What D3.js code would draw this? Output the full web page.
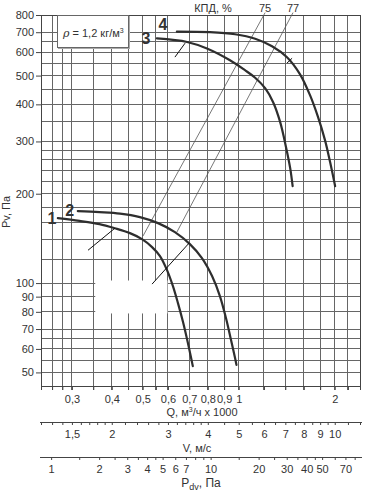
<!DOCTYPE html>
<html><head><meta charset="utf-8">
<script src="https://cdn.jsdelivr.net/npm/d3@7/dist/d3.min.js"></script>
<style>
body{margin:0;background:#fff}
svg{display:block}
text{font-family:"Liberation Sans",Arial,sans-serif;fill:#333}
</style>
</head><body>
<svg id="c" width="370" height="492"></svg>
<script>
// ---------- data ----------
const curve1Q = [0.271, 0.317, 0.366, 0.409, 0.456, 0.4975, 0.535, 0.5665, 0.596, 0.622, 0.645, 0.669, 0.693, 0.718];
const curve1P = [165.5, 162, 158, 153, 147.3, 140.6, 132.2, 123.3, 110.6, 97.7, 85.6, 73.9, 62.8, 52.5];
const curve2Q = [0.313, 0.366, 0.4246, 0.490, 0.5585, 0.631, 0.703, 0.767, 0.825, 0.873, 0.912, 0.946, 0.974, 0.984];
const curve2P = [174.8, 173.4, 171.4, 166.8, 159.2, 148.5, 135.3, 121.4, 105.6, 90.4, 76.2, 64.3, 55.9, 53];
const curve3Q = [0.554, 0.689, 0.795, 0.939, 1.046, 1.126, 1.21, 1.282, 1.349, 1.407, 1.45, 1.476];
const curve3P = [667, 649, 617, 563, 521.4, 491.8, 453.5, 406.8, 348.4, 287, 243.9, 212];
const curve4Q = [0.64, 0.813, 0.974, 1.126, 1.272, 1.417, 1.557, 1.673, 1.769, 1.864, 1.934, 2.006];
const curve4P = [702.9, 700, 689, 665.8, 628, 576.7, 505, 429.6, 365, 303, 255.6, 212];
const curveNames = ["1", "2", "3", "4"];

const eff75Q = [0.501, 1.21], eff75P = [144, 815];
const eff77Q = [0.640, 1.48], eff77P = [148.5, 815];
const effNames = ["75", "77"];

const markAQ = [0.337, 0.409], markAP = [129, 153];
const markBQ = [0.535, 0.699], markBP = [99.2, 136.4];
const markCQ = [0.631, 0.679], markCP = [577, 643];
const markDQ = [1.417, 1.47], markDP = [551, 572];

const yTickLabels = [800, 700, 600, 500, 400, 300, 200, 100, 90, 80, 70, 60, 50];
const yGrid = [50,55,60,65,70,80,90,100,120,140,160,180,200,220,240,260,280,300,350,400,450,500,550,600,650,700,800];
const xGrid = [0.24,0.26,0.28,0.3,0.35,0.4,0.45,0.5,0.55,0.6,0.7,0.8,0.9,1,1.2,1.4,1.6,1.8,2,2.2,2.4];
const qLabels = [0.3,0.4,0.5,0.6,0.7,0.8,0.9,1,2];
const vLabels = [1.5,2,3,4,5,6,7,8,9,10];
const vMinor = [1.2,1.3,1.4,1.5,1.6,1.7,1.8,1.9,2,2.2,2.4,2.6,2.8,3,3.2,3.4,3.6,3.8,4,4.5,5,5.5,6,6.5,7,7.5,8,8.5,9,9.5,10,11,12];
const pdvLabels = [1,2,3,4,5,6,7,10,20,30,40,50,70];
const pdvMinor = [1,1.5,2,2.5,3,3.5,4,4.5,5,6,7,8,9,10,15,20,25,30,35,40,45,50,60,70,80];

// ---------- scales ----------
const svg = d3.select("#c");
const L = 41, R = 360, T = 15, B = 386;
const x = d3.scaleLog().domain([0.24, 2.4]).range([L, R]);
const y = d3.scaleLog().domain([45, 800]).range([B, T]);
const xV = d3.scaleLog().domain([0.24*5, 2.4*5]).range([L, R]);          // V = 5·Q
const xPdv = d3.scaleLog().domain([15*0.24*0.24, 15*2.4*2.4]).range([L, R]); // Pdv = 0.6·V²
const loc = d3.formatLocale({decimal: ",", thousands: " ", grouping: [3], currency: ["", ""]});
const fmt = loc.format("~g");

// ---------- grid ----------
const g = svg.append("g");
g.selectAll(".vg").data(xGrid).join("line")
  .attr("x1", d => x(d)).attr("x2", d => x(d)).attr("y1", T).attr("y2", B + 4)
  .attr("stroke", "#666").attr("stroke-width", 1).attr("shape-rendering", "crispEdges");
g.selectAll(".hg").data(yGrid).join("line")
  .attr("x1", L).attr("x2", R).attr("y1", d => y(d)).attr("y2", d => y(d))
  .attr("stroke", "#666").attr("stroke-width", 1).attr("shape-rendering", "crispEdges");
// frame
g.append("rect").attr("x", L).attr("y", T).attr("width", R - L).attr("height", B - T)
  .attr("fill", "none").attr("stroke", "#444").attr("stroke-width", 1).attr("shape-rendering", "crispEdges");
// blank (unprinted) patch of the grid
g.append("rect").attr("x", x(0.355)).attr("y", y(102)).attr("width", x(0.6) - x(0.355) - 0.5)
  .attr("height", y(79) - y(102)).attr("fill", "#fff");

// ---------- y axis ----------
const ya = svg.append("g").attr("transform", `translate(${L},0)`)
  .call(d3.axisLeft(y).tickValues(yTickLabels).tickSize(5).tickPadding(2).tickFormat(d => d));
ya.select(".domain").remove();
ya.selectAll("line").attr("stroke", "#444");
ya.selectAll("text").attr("font-size", 11).attr("fill", "#333").style("font-family", "Liberation Sans, Arial, sans-serif");
svg.append("text").attr("transform", `translate(10,212) rotate(-90)`).attr("text-anchor", "middle")
  .attr("font-size", 11).text("Pv, Па");

// ---------- legend box ----------
svg.append("rect").attr("x", 58).attr("y", T + 1).attr("width", 72).attr("height", 33).attr("fill", "#aaa");
svg.append("rect").attr("x", 57).attr("y", T).attr("width", 71).attr("height", 32)
  .attr("fill", "#fff").attr("stroke", "#666").attr("stroke-width", 1).attr("shape-rendering", "crispEdges");
const lt = svg.append("text").attr("x", 63).attr("y", 37).attr("font-size", 11);
lt.append("tspan").attr("font-style", "italic").attr("font-family", "DejaVu Serif, serif").text("ρ");
lt.append("tspan").text(" = 1,2 кг/м");
lt.append("tspan").attr("font-size", 7).attr("dy", -4).text("3");

// ---------- efficiency lines ----------
const line = d3.line().x(d => x(d[0])).y(d => y(d[1]));
const effs = [[eff75Q, eff75P], [eff77Q, eff77P]];
svg.selectAll(".eff").data(effs).join("path")
  .attr("d", e => line(e[0].map((q, i) => [q, e[1][i]])))
  .attr("fill", "none").attr("stroke", "#555").attr("stroke-width", 0.8);
effs.forEach((e, i) => {
  svg.append("text").attr("x", x(e[0][1])).attr("y", 12).attr("text-anchor", "middle")
    .attr("font-size", 11).text(effNames[i]);
});
svg.append("text").attr("x", 213).attr("y", 12).attr("text-anchor", "middle").attr("font-size", 11).text("КПД, %");

// ---------- curves ----------
const curves = [[curve1Q, curve1P], [curve2Q, curve2P], [curve3Q, curve3P], [curve4Q, curve4P]];
const cl = d3.line().x(d => x(d[0])).y(d => y(d[1])).curve(d3.curveCatmullRom.alpha(0.5));
svg.selectAll(".crv").data(curves).join("path")
  .attr("d", c => cl(c[0].map((q, i) => [q, c[1][i]])))
  .attr("fill", "none").attr("stroke", "#2e2e2e").attr("stroke-width", 2.2).attr("stroke-linecap", "round");
const labPos = [[-6, 6], [-8, 5], [-11, 6], [-14, -2]];
curves.forEach((c, i) => {
  svg.append("text").attr("x", x(c[0][0]) + labPos[i][0]).attr("y", y(c[1][0]) + labPos[i][1])
    .attr("text-anchor", "middle").attr("font-size", 16).attr("font-weight", "bold")
    .attr("fill", "#444").text(curveNames[i]);
});

// ---------- marks ----------
const marks = [[markAQ, markAP], [markBQ, markBP], [markCQ, markCP], [markDQ, markDP]];
svg.selectAll(".mk").data(marks).join("path")
  .attr("d", m => line(m[0].map((q, i) => [q, m[1][i]])))
  .attr("fill", "none").attr("stroke", "#111").attr("stroke-width", 1);

// ---------- bottom axes ----------
function styleAxis(sel) {
  sel.selectAll("line").attr("stroke", "#444");
  sel.selectAll("text").attr("font-size", 11).attr("fill", "#333").style("font-family", "Liberation Sans, Arial, sans-serif");
}
// Q axis
const qa = svg.append("g").attr("transform", `translate(0,${B})`)
  .call(d3.axisBottom(x).tickValues(xGrid).tickSize(4).tickPadding(5)
    .tickFormat(d => qLabels.includes(d) ? fmt(d) : ""));
qa.select(".domain").remove();
styleAxis(qa);
const qt = svg.append("text").attr("x", 202).attr("y", 416).attr("text-anchor", "middle").attr("font-size", 11);
qt.append("tspan").text("Q, м");
qt.append("tspan").attr("font-size", 7).attr("dy", -4).text("3");
qt.append("tspan").attr("dy", 4).text("/ч x 1000");

// V axis
const VY = 422;
svg.append("line").attr("x1", 40).attr("x2", 362).attr("y1", VY).attr("y2", VY).attr("stroke", "#444")
  .attr("shape-rendering", "crispEdges");
const va = svg.append("g").attr("transform", `translate(0,${VY})`)
  .call(d3.axisBottom(xV).tickValues(vMinor).tickSize(3).tickPadding(5)
    .tickFormat(d => vLabels.includes(d) ? fmt(d) : ""));
va.select(".domain").remove();
styleAxis(va);
svg.append("text").attr("x", 197).attr("y", 452).attr("text-anchor", "middle").attr("font-size", 11).text("V, м/с");

// Pdv axis
const PY = 457;
svg.append("line").attr("x1", 40).attr("x2", 362).attr("y1", PY).attr("y2", PY).attr("stroke", "#444")
  .attr("shape-rendering", "crispEdges");
const pa = svg.append("g").attr("transform", `translate(0,${PY})`)
  .call(d3.axisBottom(xPdv).tickValues(pdvMinor).tickSize(3).tickPadding(5)
    .tickFormat(d => pdvLabels.includes(d) ? fmt(d) : ""));
pa.select(".domain").remove();
styleAxis(pa);
const pt = svg.append("text").attr("x", 201).attr("y", 487).attr("text-anchor", "middle").attr("font-size", 12);
pt.append("tspan").text("P");
pt.append("tspan").attr("font-size", 9).attr("dy", 3).text("dv");
pt.append("tspan").attr("dy", -3).text(", Па");
</script>
</body></html>
